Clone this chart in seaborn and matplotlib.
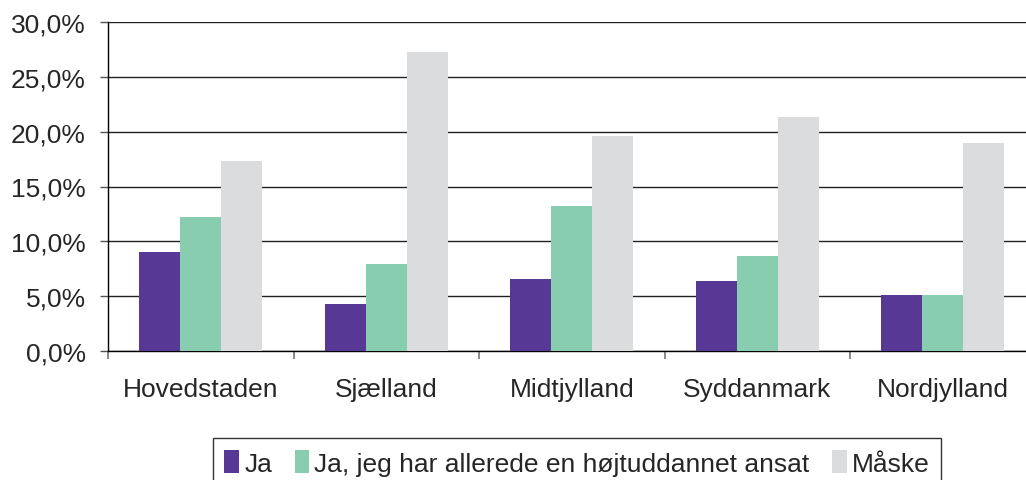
import matplotlib
matplotlib.use('Agg')
import matplotlib.pyplot as plt
from matplotlib.ticker import FuncFormatter, FixedLocator
import seaborn as sns
import pandas as pd

regions = ["Hovedstaden", "Sjælland", "Midtjylland", "Syddanmark", "Nordjylland"]
series = ["Ja", "Ja, jeg har allerede en højtuddannet ansat", "Måske"]
ja = [9.0, 4.3, 6.6, 6.4, 5.1]
ja_ansat = [12.2, 7.9, 13.2, 8.7, 5.1]
maaske = [17.3, 27.3, 19.6, 21.3, 19.0]
colors = ["#573894", "#88CDB0", "#DBDCDE"]

rows = []
for name, vals in zip(series, [ja, ja_ansat, maaske]):
    for reg, v in zip(regions, vals):
        rows.append({"region": reg, "serie": name, "pct": v})
df = pd.DataFrame(rows)

sns.set_style("white")
plt.rcParams['font.family'] = ['Liberation Sans', 'DejaVu Sans']

fig = plt.figure(figsize=(10.26, 4.81), dpi=100)
ax = fig.add_axes([108 / 1026, 1 - 352 / 481, 927.5 / 1026, 329 / 481])

sns.barplot(data=df, x="region", y="pct", hue="serie", order=regions,
            hue_order=series, palette=colors, width=0.664, gap=0,
            linewidth=0, saturation=1, ax=ax, zorder=3)

ax.set_ylim(0, 30)
ax.set_xlim(-0.5, 4.5)
ax.set_yticks([0, 5, 10, 15, 20, 25, 30])
ax.yaxis.set_major_formatter(FuncFormatter(lambda v, p: f"{v:.1f}%".replace(".", ",")))
ax.yaxis.grid(True, color="#222222", linewidth=1.0, zorder=0)
ax.set_axisbelow(True)
ax.set_xlabel("")
ax.set_ylabel("")

for s in ["top", "right"]:
    ax.spines[s].set_visible(False)
for s in ["left", "bottom"]:
    ax.spines[s].set_color("black")
    ax.spines[s].set_linewidth(1.0)

ax.tick_params(axis="y", left=True, length=6, width=1, color="#555555",
               labelsize=19, pad=10)
ax.tick_params(axis="x", which="major", length=0, labelsize=19, pad=19)
ax.xaxis.set_minor_locator(FixedLocator([-0.5, 0.5, 1.5, 2.5, 3.5, 4.5]))
ax.tick_params(axis="x", which="minor", bottom=True, length=6, width=1.2,
               color="#777777")

ax.legend_.remove()
handles, labels = ax.get_legend_handles_labels()
leg = fig.legend(handles, labels, loc="upper center", ncol=3,
                 bbox_to_anchor=(577 / 1026, 1 - 439 / 481),
                 frameon=True, fancybox=False, edgecolor="black",
                 fontsize=19, handlelength=0.55, handleheight=1.0,
                 handletextpad=0.2, columnspacing=0.85, borderpad=0.45,
                 borderaxespad=0)
leg.get_frame().set_linewidth(1.0)

plt.savefig("out.png", dpi=100)
